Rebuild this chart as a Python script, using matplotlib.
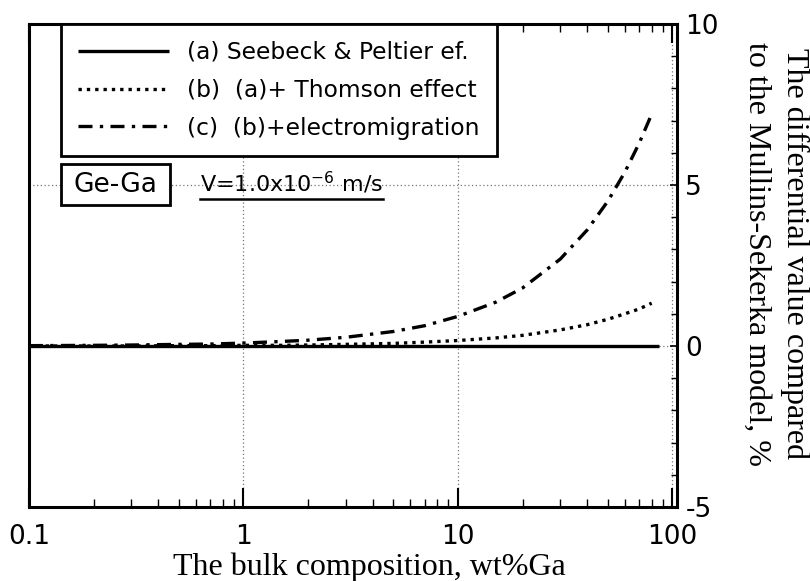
import matplotlib
matplotlib.use("Agg")
import matplotlib.pyplot as plt
from matplotlib.lines import Line2D
from matplotlib.patches import Rectangle
from matplotlib.ticker import FixedLocator, MultipleLocator, NullFormatter

# Bulk composition (wt% Ga) and the differential value (%) for each model
composition = [0.1, 0.2, 0.3, 0.5, 0.7, 1, 1.5, 2, 3, 5, 7, 10, 15, 20, 30, 40, 50, 60, 70, 80]
composition_a = [0.1, 1, 10, 87]
seebeck_peltier = [0.0, 0.0, 0.0, 0.0]
plus_thomson = [0.0, 0.0, 0.0, 0.01, 0.01, 0.02, 0.02, 0.03, 0.05, 0.08, 0.12, 0.17,
                0.25, 0.33, 0.50, 0.66, 0.83, 1.0, 1.15, 1.33]
plus_electromigration = [0.01, 0.02, 0.03, 0.05, 0.06, 0.09, 0.14, 0.18, 0.27, 0.45, 0.63,
                         0.92, 1.36, 1.8, 2.7, 3.6, 4.5, 5.4, 6.3, 7.2]

series_labels = ["(a) Seebeck & Peltier ef.",
                 "(b)  (a)+ Thomson effect",
                 "(c)  (b)+electromigration"]
x_major = [0.1, 1, 10, 100]
x_ticklabels = ["0.1", "1", "10", "100"]
y_major = [-5, 0, 5, 10]

sans = ["DejaVu Sans"]
serif = ["Liberation Serif", "DejaVu Serif"]

fig = plt.figure(figsize=(8.10, 5.81), dpi=100)
ax = fig.add_axes([0.0358, 0.1274, 0.8000, 0.8313])

ax.plot(composition_a, seebeck_peltier, color="black", lw=2.4, ls="-",
        solid_capstyle="butt", label=series_labels[0])
ax.plot(composition, plus_thomson, color="black", lw=2.4, ls=(0, (1.0, 1.5)),
        label=series_labels[1])
ax.plot(composition, plus_electromigration, color="black", lw=2.4,
        ls=(0, (4.2, 2.2, 1.0, 2.2)), label=series_labels[2])

ax.set_xscale("log")
ax.set_xlim(0.1, 105)
ax.set_ylim(-5, 10)

# X axis: log decades, minor ticks pointing inward on bottom and top
ax.xaxis.set_major_locator(FixedLocator(x_major))
ax.set_xticklabels(x_ticklabels, fontfamily=sans, fontsize=19)
ax.xaxis.set_minor_formatter(NullFormatter())
ax.tick_params(axis="x", which="major", direction="in", length=14, width=1.5,
               top=True, bottom=True, pad=12)
ax.tick_params(axis="x", which="minor", direction="in", length=6, width=1.0,
               top=True, bottom=True)

# Y axis: values on the right side
ax.yaxis.tick_right()
ax.yaxis.set_major_locator(FixedLocator(y_major))
ax.yaxis.set_minor_locator(MultipleLocator(1))
ax.set_yticklabels([str(v) for v in y_major], fontfamily=sans, fontsize=19)
ax.tick_params(axis="y", which="major", direction="in", length=5, width=1.2,
               right=True, left=False, pad=6)
ax.tick_params(axis="y", which="minor", direction="in", length=4, width=1.0,
               right=True, left=False)

ax.grid(True, which="major", axis="both", color="#777777", ls=(0, (1, 2)), lw=0.9)

for sp in ax.spines.values():
    sp.set_linewidth(2.2)

# Axis titles
fig.text(0.456, 0.0105, "The bulk composition, wt%Ga", ha="center", va="baseline",
         fontfamily=serif, fontsize=23)
fig.text(0.981, 0.563, "The differential value compared", rotation=270,
         ha="center", va="center", fontfamily=serif, fontsize=23)
fig.text(0.934, 0.563, "to the Mullins-Sekerka model, %", rotation=270,
         ha="center", va="center", fontfamily=serif, fontsize=23)

leg = ax.legend(loc="upper left", bbox_to_anchor=(0.049, 1.0), borderaxespad=0,
                fancybox=False, framealpha=1, edgecolor="black",
                prop={"family": sans, "size": 16.8}, handlelength=3.9,
                handletextpad=0.8, labelspacing=0.64, borderpad=0.72)
leg.get_frame().set_linewidth(2.0)

# Alloy system tag and growth velocity
ax.add_patch(Rectangle((0.0494, 0.625), 0.1682, 0.085, transform=ax.transAxes,
                       fill=True, fc="white", ec="black", lw=2.0, zorder=4))
ax.text(0.133, 0.667, "Ge-Ga", transform=ax.transAxes, ha="center", va="center",
        fontfamily=sans, fontsize=19, zorder=5)
ax.text(0.264, 0.652, r"V=1.0x10$^{-6}$ m/s", transform=ax.transAxes, ha="left",
        va="baseline", fontfamily=sans, fontsize=16)
ax.add_line(Line2D([0.264, 0.546], [0.638, 0.638], transform=ax.transAxes,
                   color="black", lw=1.8))

fig.savefig("out.png", dpi=100)
